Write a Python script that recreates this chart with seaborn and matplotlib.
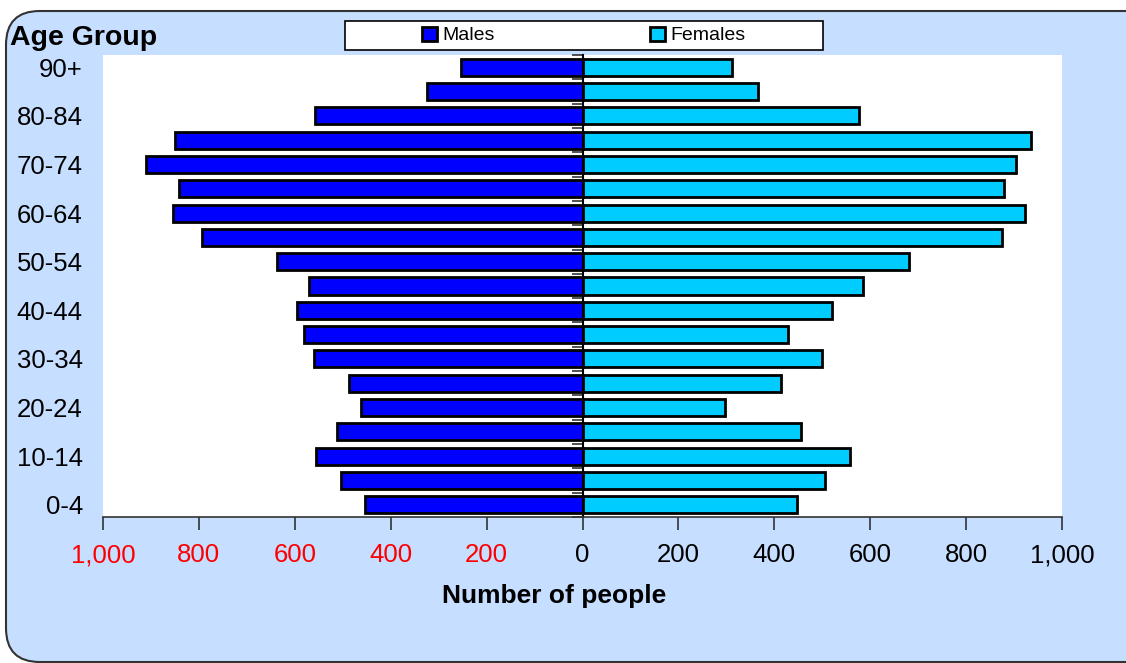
import matplotlib
matplotlib.use("Agg")
import matplotlib.pyplot as plt
from matplotlib.patches import FancyBboxPatch, Patch, Rectangle
import numpy as np
import pandas as pd
import seaborn as sns

# Age bands, youngest first
age_groups = ["0-4", "5-9", "10-14", "15-19", "20-24", "25-29", "30-34", "35-39",
              "40-44", "45-49", "50-54", "55-59", "60-64", "65-69", "70-74",
              "75-79", "80-84", "85-89", "90+"]
males = [454, 503, 555, 511, 461, 488, 561, 581, 596, 571, 637, 793, 855, 841,
         911, 850, 558, 324, 254]
females = [448, 506, 557, 455, 297, 414, 500, 429, 521, 584, 680, 875, 922, 878,
           904, 935, 577, 365, 311]
x_ticks = [-1000, -800, -600, -400, -200, 0, 200, 400, 600, 800, 1000]

male_color = "#0000FF"
female_color = "#00CCFF"
panel_color = "#C6DEFF"

sns.set_style("white")
plt.rcParams["font.family"] = ["Liberation Sans", "DejaVu Sans"]
plt.rcParams["text.color"] = "black"
plt.rcParams["xtick.color"] = "black"
plt.rcParams["ytick.color"] = "black"

W, H = 1126, 663
fig = plt.figure(figsize=(W / 100, H / 100), dpi=100)
fig.patch.set_facecolor("white")

# Rounded chart panel behind everything
panel = FancyBboxPatch((6 / W, 1 - 662 / H), (W + 40) / W, (662 - 11) / H,
                       boxstyle="round,pad=0,rounding_size=0.03",
                       transform=fig.transFigure, facecolor=panel_color,
                       edgecolor="#333333", linewidth=1.5, zorder=-10,
                       mutation_aspect=W / H)
fig.patches.append(panel)

left, right, top, bottom = 103, 1062, 55, 517
ax = fig.add_axes([left / W, 1 - bottom / H, (right - left) / W, (bottom - top) / H])
ax.set_facecolor("white")

order = age_groups[::-1]
df = pd.DataFrame({
    "age": age_groups * 2,
    "sex": ["Males"] * len(age_groups) + ["Females"] * len(age_groups),
    "people": [-v for v in males] + females,
})

sns.barplot(data=df, y="age", x="people", hue="sex", order=order,
            hue_order=["Males", "Females"], dodge=False, width=0.7,
            palette={"Males": male_color, "Females": female_color},
            edgecolor="black", linewidth=2, saturation=1, ax=ax, legend=False)

ax.set_xlim(-1000, 1000)
ax.set_ylim(len(order) - 0.5, -0.5)

# x axis: absolute values, left side in red
ax.set_xticks(x_ticks)
ax.set_xticklabels([f"{abs(v):,}" for v in x_ticks])
for lbl, v in zip(ax.get_xticklabels(), x_ticks):
    lbl.set_color("red" if v < 0 else "black")
ax.tick_params(axis="x", bottom=True, direction="out", length=9, width=1.2,
               color="#333333", labelsize=18.5, pad=10)

# y labels on every other band, in the left margin
ax.set_yticks(range(0, len(order), 2))
ax.set_yticklabels(order[::2])
ax.tick_params(axis="y", left=False, length=0, labelsize=18.5, pad=14.5)

for side in ["left", "right", "top"]:
    ax.spines[side].set_visible(False)
ax.spines["bottom"].set_color("#333333")
ax.spines["bottom"].set_linewidth(1.2)
ax.set_xlabel("")
ax.set_ylabel("")

# Central axis at zero with ticks between bands
sec = ax.secondary_yaxis(0.5)
sec.set_yticks(np.arange(len(order) + 1) - 0.5)
sec.set_yticklabels([])
sec.tick_params(axis="y", which="both", right=False, left=True,
                labelleft=False, labelright=False, direction="out",
                length=8, width=1.2, color="#333333")
for s in sec.spines.values():
    s.set_color("black")
    s.set_linewidth(1.5)

fig.text(10 / W, 1 - 38 / H, "Age Group", fontsize=20.5, fontweight="bold",
         ha="left", va="center")
fig.text(554 / W, 1 - 596 / H, "Number of people", fontsize=19,
         fontweight="bold", ha="center", va="center")

# Legend box
fig.patches.append(Rectangle((345 / W, 1 - 50 / H), 478 / W, 29 / H,
                             transform=fig.transFigure, facecolor="white",
                             edgecolor="black", linewidth=1.2, zorder=5))
handles = [Patch(facecolor=male_color, edgecolor="black", linewidth=2),
           Patch(facecolor=female_color, edgecolor="black", linewidth=2)]
leg = fig.legend(handles, ["Males", "Females"], loc="center", ncol=2,
                 bbox_to_anchor=(584 / W, 1 - 35.5 / H),
                 frameon=False, fontsize=14, handlelength=0.75,
                 handleheight=0.75, handletextpad=0.3, columnspacing=8.0,
                 borderpad=0, borderaxespad=0)
leg.set_zorder(6)

fig.savefig("out.png", dpi=100)
